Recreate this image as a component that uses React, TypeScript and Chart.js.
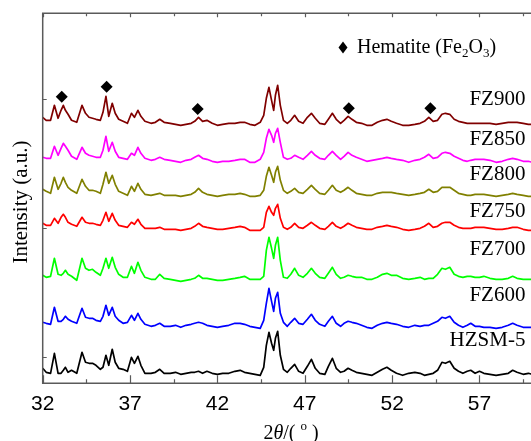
import React, { useEffect, useRef } from "react";
import { Chart, registerables } from "chart.js";

Chart.register(...registerables);

// 2θ sampling positions (degrees)
const TWO_THETA = [
  32.0, 32.2, 32.45, 32.67, 32.88, 33.05, 33.18, 33.3, 33.45, 33.65,
  33.95, 34.25, 34.45, 34.65, 34.85, 35.05, 35.3, 35.45, 35.62, 35.78,
  35.98, 36.15, 36.35, 36.6, 36.85, 37.08, 37.25, 37.45, 37.62, 37.85,
  38.2, 38.45, 38.7, 38.95, 39.3, 39.6, 39.9, 40.2, 40.5, 40.7,
  40.92, 41.15, 41.4, 41.7, 42.0, 42.3, 42.65, 43.0, 43.3, 43.55,
  43.85, 44.15, 44.45, 44.65, 44.8, 44.95, 45.1, 45.22, 45.32, 45.45,
  45.6, 45.78, 46.0, 46.2, 46.42, 46.65, 46.9, 47.15, 47.38, 47.6,
  47.85, 48.15, 48.35, 48.58, 48.8, 49.05, 49.25, 49.48, 49.7, 49.95,
  50.25, 50.55, 50.85, 51.15, 51.45, 51.7, 51.95, 52.25, 52.6, 52.95,
  53.3, 53.6, 53.85, 54.1, 54.35, 54.6, 54.85, 55.05, 55.3, 55.55,
  55.8, 56.05, 56.3, 56.5, 56.75, 57.0, 57.25, 57.6, 57.95, 58.3,
  58.65, 58.9, 59.15, 59.5, 59.8, 60.0,
];

// Stacked intensities (a.u., offset included)
const HZSM5 = [
  15, 11, 10, 30, 10, 10, 13, 16, 11, 13,
  10, 31, 21, 20, 20, 18, 14, 16, 28, 18,
  34, 21, 15, 14, 12, 26, 20, 27, 18, 10,
  10, 11, 14, 10, 10, 11, 9, 10, 11, 11,
  12, 10, 12, 10, 9, 10, 10, 12, 13, 11,
  10, 9, 8, 16, 38, 51, 40, 33, 45, 52,
  28, 14, 11, 15, 19, 12, 10, 17, 24, 15,
  10, 9, 17, 25, 15, 11, 12, 15, 13, 11,
  10, 9, 8, 11, 14, 16, 13, 10, 8, 10,
  11, 10, 8, 9, 10, 13, 21, 20, 22, 15,
  12, 10, 12, 13, 10, 12, 10, 9, 8, 9,
  10, 13, 11, 9, 10, 9,
];
const FZ600 = [
  61, 60, 59, 76, 62, 62, 64, 67, 64, 62,
  60, 75, 66, 65, 65, 63, 62, 67, 78, 68,
  76, 67, 63, 60, 61, 68, 63, 70, 64, 59,
  57, 58, 60, 57, 57, 58, 56, 58, 59, 60,
  61, 60, 58, 57, 56, 57, 58, 60, 60, 59,
  57, 56, 55, 63, 80, 95, 82, 72, 85, 91,
  70, 61, 57, 61, 65, 60, 59, 64, 69, 63,
  59, 57, 62, 67, 60, 57, 60, 62, 61, 60,
  58, 56, 55, 58, 60, 61, 60, 59, 57, 56,
  58, 57, 58, 58, 60, 62, 66, 65, 67, 61,
  58, 56, 58, 60, 57, 57, 56, 56, 55, 56,
  58, 60, 58, 56, 56, 56,
];
const FZ700 = [
  108, 106, 107, 125, 109, 108, 110, 113, 109, 107,
  103, 125, 115, 113, 114, 111, 108, 115, 125, 115,
  126, 116, 109, 106, 106, 117, 110, 121, 113, 106,
  104, 104, 109, 105, 104, 103, 102, 103, 104, 105,
  108, 105, 105, 104, 103, 103, 104, 105, 106, 107,
  104, 104, 104, 107, 133, 146, 135, 125, 138, 146,
  123, 106, 105, 109, 115, 108, 106, 110, 115, 110,
  106, 105, 110, 116, 109, 105, 106, 108, 107, 106,
  106, 104, 104, 106, 109, 110, 108, 108, 105, 104,
  105, 106, 104, 105, 105, 109, 115, 114, 116, 109,
  107, 106, 107, 107, 106, 106, 107, 105, 104, 104,
  105, 107, 105, 104, 104, 104,
];
const FZ750 = [
  160, 158, 158, 165, 160, 166, 169, 166, 161, 159,
  157, 166, 161, 160, 160, 159, 158, 163, 171, 162,
  170, 163, 158, 157, 156, 161, 159, 164, 159, 155,
  155, 155, 156, 154, 154, 154, 153, 154, 155, 157,
  160, 157, 156, 155, 154, 154, 155, 156, 157, 156,
  153, 153, 153, 156, 171, 177, 171, 168, 175, 179,
  165, 156, 154, 156, 160, 156, 155, 158, 161, 158,
  155, 154, 157, 161, 157, 155, 157, 160, 158, 156,
  155, 154, 154, 156, 157, 158, 157, 156, 154, 153,
  154, 155, 157, 160, 156, 157, 160, 161, 161, 158,
  156, 155, 155, 155, 156, 156, 156, 155, 154, 154,
  155, 156, 156, 154, 153, 153,
];
const FZ800 = [
  194, 192, 190, 206, 194, 200, 206, 201, 196, 193,
  190, 204, 197, 193, 193, 192, 190, 199, 211, 200,
  208, 199, 192, 190, 188, 197, 192, 200, 194, 189,
  188, 189, 190, 188, 188, 188, 187, 188, 189, 191,
  195, 191, 189, 188, 187, 188, 189, 189, 190, 189,
  187, 187, 188, 193, 207, 216, 208, 201, 211, 217,
  203, 193, 190, 192, 195, 191, 190, 194, 198, 194,
  190, 189, 193, 198, 193, 191, 193, 196, 193, 190,
  189, 188, 188, 190, 191, 191, 191, 190, 189, 188,
  189, 190, 191, 194, 191, 192, 196, 196, 196, 193,
  190, 189, 188, 188, 189, 189, 189, 188, 187, 188,
  189, 190, 189, 188, 187, 187,
];
const FZ850 = [
  226, 225, 225, 237, 228, 235, 240, 237, 233, 227,
  224, 236, 230, 228, 227, 226, 226, 233, 247, 232,
  241, 232, 226, 225, 224, 230, 228, 236, 230, 225,
  223, 224, 226, 224, 223, 222, 221, 223, 224, 226,
  228, 225, 224, 222, 221, 222, 222, 223, 224, 224,
  221, 221, 224, 231, 245, 254, 248, 241, 250, 255,
  241, 226, 224, 225, 228, 226, 224, 228, 232, 228,
  225, 224, 228, 232, 228, 224, 227, 231, 228, 226,
  224, 222, 223, 224, 225, 226, 225, 224, 223, 221,
  223, 224, 226, 229, 225, 226, 230, 231, 230, 227,
  225, 223, 222, 223, 224, 224, 224, 223, 221, 222,
  224, 225, 224, 222, 222, 221,
];
const FZ900 = [
  266, 263, 263, 278, 265, 273, 278, 273, 269, 263,
  261, 278, 270, 266, 265, 264, 263, 271, 287, 267,
  280, 270, 264, 262, 260, 270, 266, 273, 267, 262,
  260, 261, 264, 261, 260, 259, 258, 259, 260, 262,
  266, 262, 263, 260, 258, 259, 260, 260, 261, 261,
  259, 258, 261, 268, 285, 296, 283, 273, 288, 298,
  278, 263, 260, 263, 268, 262, 260, 266, 270, 265,
  260, 259, 264, 270, 264, 260, 263, 267, 264, 261,
  260, 258, 258, 261, 263, 264, 262, 260, 258, 258,
  259, 260, 262, 266, 262, 263, 269, 270, 269, 264,
  262, 261, 260, 260, 260, 260, 260, 260, 259, 260,
  261, 261, 261, 260, 259, 259,
];

const SERIES_VALUES = [HZSM5, FZ600, FZ700, FZ750, FZ800, FZ850, FZ900];
const SERIES_NAMES = ["HZSM-5", "FZ600", "FZ700", "FZ750", "FZ800", "FZ850", "FZ900"];
const SERIES_COLORS = ["#000000", "#0000ff", "#00ff00", "#ff0000", "#808000", "#ff00ff", "#800000"];
const LABEL_LEVELS = [42.8, 88.3, 134.3, 172.3, 208.8, 244.3, 283.8];
const LABEL_RIGHT_2THETA = 59.63;

// Hematite reflections marked on FZ900
const HEMATITE_2THETA = [33.09, 35.66, 40.87, 49.52, 54.19];
const HEMATITE_LEVEL = [286.6, 296.6, 274.3, 275, 275];

const X_MAJOR_TICKS = [32, 37, 42, 47, 52, 57];
const X_MINOR_TICKS = [34.5, 39.5, 44.5, 49.5, 54.5, 59.5];
const Y_TICKS = [26, 155, 284];

const X_MIN = 32;
const X_MAX = 60;
const Y_MIN = 0;
const Y_MAX = 370;

const CANVAS_W = 560;
const CANVAS_H = 441;

const SERIF = '"Liberation Serif", "Times New Roman", serif';
const SANS = '"Liberation Sans", Arial, sans-serif';

const decorPlugin = {
  id: "xrdDecor",
  afterDatasetsDraw(chart: any) {
    const { ctx, chartArea, scales } = chart;
    const xs = scales.x;
    const ys = scales.y;
    const { left, right, top, bottom } = chartArea;
    ctx.save();

    // frame
    ctx.strokeStyle = "#5a5a5a";
    ctx.lineWidth = 1.5;
    ctx.beginPath();
    ctx.moveTo(left, top);
    ctx.lineTo(left, bottom);
    ctx.moveTo(left - 0.75, bottom);
    ctx.lineTo(right, bottom);
    ctx.moveTo(left - 0.75, top);
    ctx.lineTo(right, top);
    ctx.moveTo(right, top);
    ctx.lineTo(right, bottom);
    ctx.stroke();

    // x ticks (inward, bottom & top)
    ctx.lineWidth = 1.2;
    ctx.beginPath();
    X_MAJOR_TICKS.forEach((v) => {
      const px = Math.round(xs.getPixelForValue(v)) + 0.5;
      ctx.moveTo(px, bottom);
      ctx.lineTo(px, bottom - 8);
      ctx.moveTo(px, top);
      ctx.lineTo(px, top + 4);
    });
    X_MINOR_TICKS.forEach((v) => {
      const px = Math.round(xs.getPixelForValue(v)) + 0.5;
      ctx.moveTo(px, bottom);
      ctx.lineTo(px, bottom - 4);
      ctx.moveTo(px, top);
      ctx.lineTo(px, top + 3);
    });
    Y_TICKS.forEach((v) => {
      const py = Math.round(ys.getPixelForValue(v)) + 0.5;
      ctx.moveTo(left, py);
      ctx.lineTo(left + 4, py);
    });
    ctx.stroke();

    // x tick labels
    ctx.fillStyle = "#000";
    ctx.font = `21px ${SANS}`;
    ctx.textAlign = "center";
    ctx.textBaseline = "alphabetic";
    X_MAJOR_TICKS.forEach((v) => {
      ctx.fillText(String(v), xs.getPixelForValue(v), bottom + 27);
    });

    // series labels
    ctx.font = `21px ${SERIF}`;
    ctx.textAlign = "right";
    ctx.textBaseline = "middle";
    SERIES_NAMES.forEach((name, i) => {
      ctx.fillText(name, xs.getPixelForValue(LABEL_RIGHT_2THETA), ys.getPixelForValue(LABEL_LEVELS[i]));
    });

    // y title
    ctx.save();
    ctx.translate(21, 202);
    ctx.rotate(-Math.PI / 2);
    ctx.textAlign = "center";
    ctx.textBaseline = "middle";
    ctx.font = `21px ${SERIF}`;
    ctx.fillText("Intensity (a.u.)", 0, 0);
    ctx.restore();

    // x title: 2θ/(°)
    const segs = [
      { t: "2", f: `20px ${SERIF}`, dy: 0 },
      { t: "θ", f: `italic 20px ${SERIF}`, dy: 0 },
      { t: "/( ", f: `20px ${SERIF}`, dy: 0 },
      { t: "o", f: `13px ${SERIF}`, dy: -9 },
      { t: " )", f: `20px ${SERIF}`, dy: 0 },
    ];
    ctx.textAlign = "left";
    ctx.textBaseline = "alphabetic";
    let total = 0;
    segs.forEach((s) => {
      ctx.font = s.f;
      total += ctx.measureText(s.t).width;
    });
    let cx = 291 - total / 2;
    segs.forEach((s) => {
      ctx.font = s.f;
      ctx.fillText(s.t, cx, 439 + s.dy);
      cx += ctx.measureText(s.t).width;
    });

    // legend: ◆ Hematite (Fe2O3)
    ctx.beginPath();
    ctx.moveTo(343, 41.5);
    ctx.lineTo(347.5, 47.5);
    ctx.lineTo(343, 53.5);
    ctx.lineTo(338.5, 47.5);
    ctx.closePath();
    ctx.fill();
    const lsegs = [
      { t: "Hematite (Fe", f: `20px ${SERIF}`, dy: 0 },
      { t: "2", f: `13px ${SERIF}`, dy: 4 },
      { t: "O", f: `20px ${SERIF}`, dy: 0 },
      { t: "3", f: `13px ${SERIF}`, dy: 4 },
      { t: ")", f: `20px ${SERIF}`, dy: 0 },
    ];
    let lx = 357;
    lsegs.forEach((s) => {
      ctx.font = s.f;
      ctx.fillText(s.t, lx, 53 + s.dy);
      lx += ctx.measureText(s.t).width;
    });

    ctx.restore();
  },
};

export default function App() {
  const canvasRef = useRef<HTMLCanvasElement | null>(null);

  useEffect(() => {
    document.body.style.margin = "0";
    document.body.style.overflow = "hidden";
    const canvas = canvasRef.current;
    if (!canvas) return;

    const datasets: any[] = SERIES_VALUES.map((vals, i) => ({
      label: SERIES_NAMES[i],
      data: TWO_THETA.map((x, j) => ({ x, y: vals[j] })),
      borderColor: SERIES_COLORS[i],
      backgroundColor: SERIES_COLORS[i],
      borderWidth: 1.7,
      borderJoinStyle: "round",
      pointRadius: 0,
      tension: 0,
      fill: false,
    }));
    datasets.push({
      label: "Hematite",
      data: HEMATITE_2THETA.map((x, j) => ({ x, y: HEMATITE_LEVEL[j] })),
      showLine: false,
      pointStyle: "rectRot",
      pointRadius: 6,
      borderWidth: 0,
      backgroundColor: "#000",
      borderColor: "#000",
    });

    const xPixLeft = 42.7;
    const xPixRight = 531.9;
    const chart = new Chart(canvas, {
      type: "line",
      data: { datasets },
      options: {
        responsive: false,
        animation: false,
        layout: {
          padding: {
            left: xPixLeft,
            right: CANVAS_W - xPixRight,
            top: 13.3,
            bottom: CANVAS_H - 383.3,
          },
        },
        scales: {
          x: { type: "linear", min: X_MIN, max: X_MAX, display: false },
          y: { type: "linear", min: Y_MIN, max: Y_MAX, display: false },
        },
        plugins: {
          legend: { display: false },
          tooltip: { enabled: false },
        },
      },
      plugins: [decorPlugin],
    });
    return () => chart.destroy();
  }, []);

  return (
    <div style={{ width: 531, height: 441, overflow: "hidden", position: "relative", background: "#fff" }}>
      <canvas ref={canvasRef} width={CANVAS_W} height={CANVAS_H} style={{ display: "block" }} />
    </div>
  );
}
